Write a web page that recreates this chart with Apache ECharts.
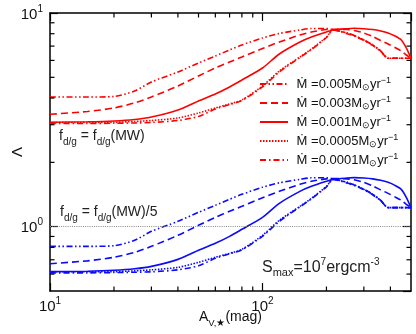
<!DOCTYPE html>
<html><head><meta charset="utf-8">
<script src="https://cdn.jsdelivr.net/npm/echarts@6/dist/echarts.min.js"></script>
<style>html,body{margin:0;padding:0;background:#fff}#c{width:416px;height:334px}</style>
</head><body><div id="c"></div>
<script>
// A_V,* (mag) sample points
const avGrid = [10,15,20,25,30,40,50,60,70,80,100,120,150,170,200,215,250,270,300,330,360,390,420,450,475,500];
const mdotLabels = ['0.005','0.003','0.001','0.0005','0.0001'];
// f_d/g = f_d/g(MW)
const redM005  = [4.045,4.045,4.068,4.315,4.755,5.296,5.834,6.292,6.713,7.084,7.638,8.018,8.326,8.463,8.463,8.372,8.062,7.847,7.475,7.084,6.641,6.138,6.138,6.138,6.138,6.138];
const redM003  = [3.357,3.460,3.594,3.792,4.045,4.554,5.074,5.529,5.898,6.225,6.823,7.316,7.889,8.149,8.372,8.389,8.372,8.283,8.062,7.763,7.434,7.161,6.897,6.641,6.360,6.138];
const redM001  = [3.081,3.097,3.124,3.174,3.261,3.517,3.875,4.178,4.506,4.859,5.529,6.429,7.316,7.721,8.149,8.326,8.444,8.482,8.444,8.372,8.238,8.062,7.806,7.475,6.860,6.138];
const redM0005 = [3.074,3.074,3.081,3.107,3.140,3.226,3.405,3.594,3.752,3.917,4.554,5.353,6.225,6.786,7.721,8.326,8.062,7.847,7.475,7.084,6.641,6.138,6.138,6.138,6.138,6.138];
const redM0001 = [3.041,3.041,3.048,3.058,3.074,3.140,3.279,3.554,3.731,3.896,4.506,5.296,6.192,6.750,7.680,8.326,8.000,7.800,7.450,7.050,6.620,6.138,6.138,6.138,6.138,6.138];
// f_d/g = f_d/g(MW)/5
const blueM005  = [0.809,0.809,0.814,0.863,0.951,1.059,1.167,1.258,1.343,1.417,1.528,1.604,1.665,1.693,1.693,1.674,1.612,1.569,1.495,1.417,1.328,1.228,1.228,1.228,1.228,1.228];
const blueM003  = [0.671,0.692,0.719,0.758,0.809,0.911,1.015,1.106,1.180,1.245,1.365,1.463,1.578,1.630,1.674,1.678,1.674,1.657,1.612,1.553,1.487,1.432,1.379,1.328,1.272,1.228];
const blueM001  = [0.616,0.619,0.625,0.635,0.652,0.703,0.775,0.836,0.901,0.972,1.106,1.286,1.463,1.544,1.630,1.665,1.689,1.696,1.689,1.674,1.648,1.612,1.561,1.495,1.372,1.228];
const blueM0005 = [0.615,0.615,0.616,0.621,0.628,0.645,0.681,0.719,0.750,0.783,0.911,1.071,1.245,1.357,1.544,1.665,1.612,1.569,1.495,1.417,1.328,1.228,1.228,1.228,1.228,1.228];
const blueM0001 = [0.608,0.608,0.610,0.612,0.615,0.628,0.656,0.711,0.746,0.779,0.901,1.059,1.238,1.350,1.536,1.665,1.600,1.560,1.490,1.410,1.324,1.228,1.228,1.228,1.228,1.228];
// ticks
const xTickLabels = [10, 100];
const yTickLabels = [1, 10];
const xMinorTicks = [20,30,40,50,60,70,80,90,200,300,400];
const yMinorTicks = [0.6,0.7,0.8,0.9,2,3,4,5,6,7,8,9];

const FONT = '"Liberation Sans", Arial, Helvetica, sans-serif';
const redSets = [redM005, redM003, redM001, redM0005, redM0001];
const blueSets = [blueM005, blueM003, blueM001, blueM0005, blueM0001];
const dashes = [[6,2.5,1.5,2.5,1.5,2.5],[7,4],'solid',[1.5,1.5],[6,3,1.5,3]];
const RED = '#ff0000', BLUE = '#0a0aff';

const pairs = arr => avGrid.map((a, i) => [a, arr[i]]);
const series = [];
redSets.forEach((d, i) => series.push({
  name: mdotLabels[i], type: 'line', data: pairs(d), symbol: 'none', smooth: 0.25,
  lineStyle: {color: RED, width: 1.6, type: dashes[i]}, itemStyle: {color: RED}, z: 3
}));
blueSets.forEach((d, i) => series.push({
  name: 'b' + mdotLabels[i], type: 'line', data: pairs(d), symbol: 'none', smooth: 0.25,
  lineStyle: {color: BLUE, width: 1.6, type: dashes[i]}, itemStyle: {color: BLUE}, z: 3,
  markLine: i === 0 ? {silent: true, symbol: 'none', label: {show: false},
    lineStyle: {color: '#8a8a8a', type: [1, 1.2], width: 1}, data: [{yAxis: 1}]} : undefined
}));
const tickStyle = {stroke: '#000', lineWidth: 1.2};
series.push({
  type: 'custom', silent: true, z: 5, data: xMinorTicks.map(v => [v, 1]),
  renderItem: (params, api) => {
    const cs = params.coordSys; const p = api.coord([api.value(0), 1]);
    return {type: 'group', children: [
      {type: 'line', shape: {x1: p[0], y1: cs.y + cs.height, x2: p[0], y2: cs.y + cs.height - 4.5}, style: tickStyle},
      {type: 'line', shape: {x1: p[0], y1: cs.y, x2: p[0], y2: cs.y + 4.5}, style: tickStyle}
    ]};
  }
});
series.push({
  type: 'custom', silent: true, z: 5, data: yMinorTicks.map(v => [20, v]),
  renderItem: (params, api) => {
    const cs = params.coordSys; const p = api.coord([20, api.value(1)]);
    return {type: 'group', children: [
      {type: 'line', shape: {x1: cs.x, y1: p[1], x2: cs.x + 4.5, y2: p[1]}, style: tickStyle},
      {type: 'line', shape: {x1: cs.x + cs.width, y1: p[1], x2: cs.x + cs.width - 4.5, y2: p[1]}, style: tickStyle}
    ]};
  }
});

const powLabel = (v, list) => {
  if (!list.some(t => Math.abs(t - v) / t < 1e-6)) return '';
  return '{b|10}{s|' + Math.round(Math.log10(v)) + '}';
};
const tickRich = {b: {fontSize: 15, fontFamily: FONT, color: '#111', lineHeight: 18, verticalAlign: 'bottom'},
                  s: {fontSize: 10, fontFamily: FONT, color: '#111', lineHeight: 18, verticalAlign: 'top'}};
const axisCommon = {
  type: 'log', logBase: 10,
  axisLine: {show: true, lineStyle: {color: '#000', width: 1.5}},
  axisTick: {show: true, inside: true, length: 8, lineStyle: {color: '#000', width: 1.2}},
  splitLine: {show: false}, minorTick: {show: false}
};

const option = {
  animation: false,
  backgroundColor: '#fff',
  grid: {left: 50, top: 13, right: 5, bottom: 43, containLabel: false, outerBoundsMode: 'none'},
  xAxis: [
    Object.assign({}, axisCommon, {min: 10, max: 500, position: 'bottom',
      name: '{a|A}{sub|V,★}{a|(mag)}', nameLocation: 'middle', nameGap: 19, nameMoveOverlap: false,
      nameTextStyle: {rich: {a: {fontSize: 14, fontFamily: FONT, color: '#111', lineHeight: 18, verticalAlign: 'top'},
                             sub: {fontSize: 9.5, fontFamily: FONT, color: '#111', lineHeight: 18, verticalAlign: 'bottom'}}},
      axisLabel: {margin: 5, formatter: v => powLabel(v, xTickLabels), rich: tickRich, showMaxLabel: false}}),
    Object.assign({}, axisCommon, {min: 10, max: 500, position: 'top', axisLabel: {show: false}})
  ],
  yAxis: [
    Object.assign({}, axisCommon, {min: 0.5, max: 10, position: 'left',
      name: 'Λ', nameLocation: 'middle', nameGap: 25, nameRotate: 90, nameMoveOverlap: false,
      nameTextStyle: {fontSize: 15, fontFamily: FONT, color: '#111'},
      axisLabel: {margin: 7, formatter: v => powLabel(v, yTickLabels), rich: tickRich, showMinLabel: false}}),
    Object.assign({}, axisCommon, {min: 0.5, max: 10, position: 'right', axisLabel: {show: false}})
  ],
  legend: {
    data: mdotLabels, orient: 'vertical', left: 259, top: 76,
    itemWidth: 28, itemHeight: 10, itemGap: 3, padding: 0,
    itemStyle: {opacity: 0},
    formatter: n => '{m| Ṁ =' + n + 'M}{sub|⊙}{m|yr}{sup|−1}',
    textStyle: {rich: {
      m: {fontSize: 13, fontFamily: FONT, color: '#111', lineHeight: 16},
      sub: {fontSize: 9, fontFamily: FONT, color: '#111', lineHeight: 16, verticalAlign: 'bottom'},
      sup: {fontSize: 9, fontFamily: FONT, color: '#111', lineHeight: 16, verticalAlign: 'top'}
    }}
  },
  graphic: [
    {type: 'text', left: 59, top: 129, style: {
      text: '{f|f}{s|d/g}{f| = f}{s|d/g}{f|(MW)}',
      rich: {f: {fontSize: 14, fontFamily: FONT, fill: '#222', lineHeight: 18, verticalAlign: 'top'},
             s: {fontSize: 10, fontFamily: FONT, fill: '#222', lineHeight: 18, verticalAlign: 'bottom'}}}},
    {type: 'text', left: 60, top: 205, style: {
      text: '{f|f}{s|d/g}{f| = f}{s|d/g}{f|(MW)/5}',
      rich: {f: {fontSize: 14, fontFamily: FONT, fill: '#222', lineHeight: 18, verticalAlign: 'top'},
             s: {fontSize: 10, fontFamily: FONT, fill: '#222', lineHeight: 18, verticalAlign: 'bottom'}}}},
    {type: 'text', left: 262, top: 257, style: {
      text: '{f|S}{s|max}{f|=10}{p|7}{f|ergcm}{p|-3}',
      rich: {f: {fontSize: 16, fontFamily: FONT, fill: '#222', lineHeight: 21},
             s: {fontSize: 11, fontFamily: FONT, fill: '#222', lineHeight: 21, verticalAlign: 'bottom'},
             p: {fontSize: 10, fontFamily: FONT, fill: '#222', lineHeight: 21, verticalAlign: 'top'}}}}
  ],
  series: series
};
echarts.init(document.getElementById('c'), null, {renderer: 'canvas'}).setOption(option);
</script></body></html>
